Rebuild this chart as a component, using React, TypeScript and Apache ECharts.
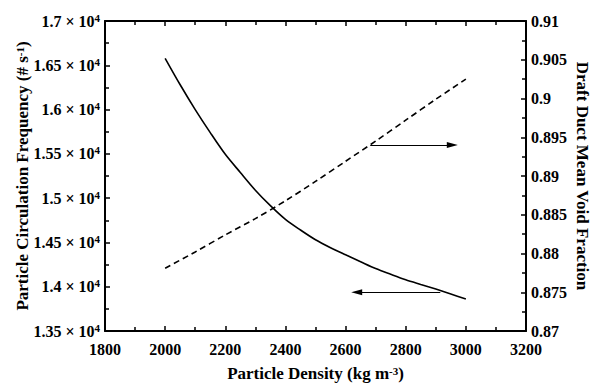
import React, { useEffect, useRef } from "react";
import * as echarts from "echarts";

const densities = [2000, 2050, 2100, 2150, 2200, 2250, 2300, 2350, 2400, 2450, 2500, 2550, 2600, 2650, 2700, 2750, 2800, 2850, 2900, 2950, 3000];
const frequency = [16579, 16280, 16000, 15740, 15495, 15290, 15090, 14915, 14760, 14640, 14530, 14440, 14360, 14282, 14205, 14140, 14078, 14025, 13973, 13918, 13861];
const densitiesVoid = [2000, 2100, 2200, 2300, 2400, 2500, 2600, 2700, 2800, 2900, 3000];
const voidFraction = [0.8781, 0.8802, 0.8824, 0.8845, 0.8868, 0.8893, 0.8919, 0.8945, 0.8972, 0.8999, 0.9025];

// arrow annotations: [fromX, toX] at a fixed y value
const rightArrowX = [2682, 2955];
const rightArrowY = 0.894;
const leftArrowX = [2915, 2637];
const leftArrowY = 13937;

const FONT = "Liberation Serif";

export default function App() {
  const ref = useRef<HTMLDivElement>(null);
  useEffect(() => {
    if (!ref.current) return;
    const chart = echarts.init(ref.current, null, { renderer: "svg" });
    const axisLine = { show: true, lineStyle: { color: "#000", width: 2 } };
    const tick = { show: true, inside: true, length: 5, lineStyle: { color: "#000", width: 1.5 } };
    const minor = { show: true, splitNumber: 2, length: 4, lineStyle: { color: "#000", width: 1.5 } };
    const labelStyle = { color: "#000", fontFamily: FONT, fontWeight: 700, fontSize: 16 };
    const tokenStyle = { color: "#000", fontFamily: FONT, fontWeight: 700, fontSize: 17 };
    const nameStyle = {
      ...tokenStyle,
      rich: {
        t: { ...tokenStyle },
        sup: { ...tokenStyle, fontSize: 11, verticalAlign: "top" as const },
      },
    };
    chart.setOption({
      animation: false,
      grid: { left: 105, right: 66, top: 21, bottom: 52, containLabel: false, outerBoundsMode: "none" },
      xAxis: [
        {
          type: "value",
          min: 1800,
          max: 3200,
          interval: 200,
          axisLine,
          axisTick: tick,
          minorTick: minor,
          splitLine: { show: false },
          axisLabel: { ...labelStyle, margin: 10, formatter: (v: number) => `${v}` },
          name: "{t|Particle Density (kg m}{sup|-3}{t|)}",
          nameLocation: "middle",
          nameMoveOverlap: false,
          nameGap: 34,
          nameTextStyle: nameStyle,
        },
        {
          type: "value",
          position: "top",
          min: 1800,
          max: 3200,
          interval: 200,
          axisLine,
          axisTick: tick,
          minorTick: minor,
          splitLine: { show: false },
          axisLabel: { show: false },
        },
      ],
      yAxis: [
        {
          type: "value",
          min: 13500,
          max: 17000,
          interval: 500,
          axisLine,
          axisTick: tick,
          minorTick: minor,
          splitLine: { show: false },
          axisLabel: {
            margin: 5,
            formatter: (v: number) => `{n|${parseFloat((v / 1e4).toFixed(2))} × 10}{s|4}`,
            rich: {
              n: { ...labelStyle, lineHeight: 18 },
              s: { ...labelStyle, fontSize: 11, verticalAlign: "top", lineHeight: 11 },
            },
          },
          name: "{t|Particle Circulation Frequency (# s}{sup|-1}{t|)}",
          nameLocation: "middle",
          nameMoveOverlap: false,
          nameGap: 74,
          nameTextStyle: nameStyle,
        },
        {
          type: "value",
          position: "right",
          min: 0.87,
          max: 0.91,
          interval: 0.005,
          axisLine,
          axisTick: tick,
          minorTick: minor,
          splitLine: { show: false },
          axisLabel: {
            ...labelStyle,
            margin: 5,
            formatter: (v: number) => `${parseFloat(v.toFixed(3))}`,
          },
          name: "Draft Duct Mean Void Fraction",
          nameLocation: "middle",
          nameMoveOverlap: false,
          nameRotate: -90,
          nameGap: 48,
          nameTextStyle: { ...tokenStyle, lineHeight: 17 },
        },
      ],
      series: [
        {
          type: "line",
          xAxisIndex: 0,
          yAxisIndex: 0,
          data: densities.map((d, i) => [d, frequency[i]]),
          showSymbol: false,
          smooth: 0.3,
          lineStyle: { color: "#000", width: 1.6 },
          markLine: {
            silent: true,
            symbol: ["none", "triangle"],
            symbolSize: [6, 11],
            label: { show: false },
            lineStyle: { color: "#000", width: 1, type: "solid" },
            data: [[{ coord: [leftArrowX[0], leftArrowY] }, { coord: [leftArrowX[1], leftArrowY] }]],
          },
        },
        {
          type: "line",
          xAxisIndex: 0,
          yAxisIndex: 1,
          data: densitiesVoid.map((d, i) => [d, voidFraction[i]]),
          showSymbol: false,
          smooth: 0.3,
          lineStyle: { color: "#000", width: 1.6, type: [6, 4] },
          markLine: {
            silent: true,
            symbol: ["none", "triangle"],
            symbolSize: [6, 11],
            label: { show: false },
            lineStyle: { color: "#000", width: 1, type: "solid" },
            data: [[{ coord: [rightArrowX[0], rightArrowY] }, { coord: [rightArrowX[1], rightArrowY] }]],
          },
        },
      ],
    });
    return () => chart.dispose();
  }, []);
  return <div ref={ref} style={{ position: "fixed", left: 0, top: 0, width: 592, height: 383, background: "#fff" }} />;
}
